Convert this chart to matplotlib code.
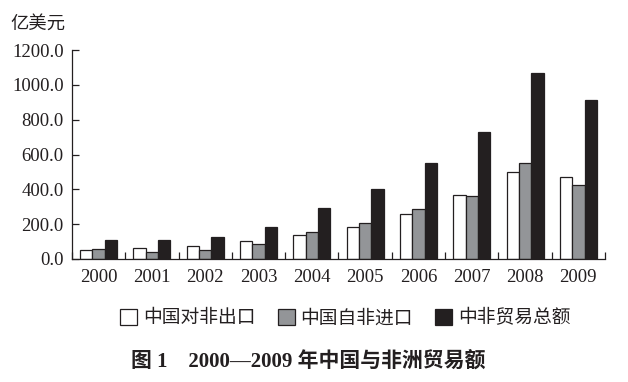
import matplotlib
matplotlib.use("Agg")
import matplotlib.pyplot as plt
import numpy as np
from matplotlib.patches import Patch

years = ["2000", "2001", "2002", "2003", "2004", "2005", "2006", "2007", "2008", "2009"]
exports = [52, 61, 73, 103, 136, 182, 257, 366, 498, 469]
imports = [59, 39, 50, 84, 153, 205, 285, 360, 549, 423]
total = [109, 109, 126, 184, 293, 402, 551, 729, 1068, 913]
series_names = ["中国对非出口", "中国自非进口", "中非贸易总额"]
yticks = [0, 200, 400, 600, 800, 1000, 1200]

serif = ["Liberation Serif", "Noto Sans CJK SC"]
cjk = ["Noto Sans CJK SC", "DejaVu Sans"]
plt.rcParams["font.family"] = serif

fig = plt.figure(figsize=(6.28, 3.82), dpi=100)
ax = fig.add_axes([0.1146, 0.322, 0.8488, 0.547])

x = np.arange(len(years))
w = 0.232
colors = ["white", "#939598", "#231f20"]
for i, (vals, c) in enumerate(zip([exports, imports, total], colors)):
    ax.bar(x + (i - 1) * w, vals, width=w, color=c, edgecolor="#231f20", linewidth=0.9)

ax.set_xlim(-0.5, len(years) - 0.5)
ax.set_ylim(0, 1200)
ax.set_yticks(yticks)
ax.set_yticklabels([f"{v:.1f}" for v in yticks], fontsize=13.5, color="#231f20")
ax.set_xticks(np.arange(-0.5, len(years)), labels=[""] * (len(years) + 1))
ax.set_xticks(x, labels=years, minor=True)
ax.tick_params(axis="x", which="major", direction="in", length=5, width=0.9, color="#231f20")
ax.tick_params(axis="x", which="minor", length=0, pad=7, labelsize=13.5, labelcolor="#231f20")
ax.tick_params(axis="y", direction="in", length=5, width=0.9, pad=6, color="#231f20")
for s in ["top", "right"]:
    ax.spines[s].set_visible(False)
for s in ["left", "bottom"]:
    ax.spines[s].set_linewidth(0.9)
    ax.spines[s].set_color("#231f20")

fig.text(0.016, 0.937, "亿美元", family=cjk, fontsize=13.2, color="#231f20", va="center", ha="left")

handles = [Patch(facecolor=c, edgecolor="#231f20", linewidth=0.9) for c in colors]
leg = fig.legend(handles, series_names, loc="center", bbox_to_anchor=(0.55, 0.168), ncol=3,
                 frameon=False, prop={"family": cjk, "size": 13.5}, handlelength=0.9,
                 handleheight=0.9, handletextpad=0.3, columnspacing=1.2)
for t in leg.get_texts():
    t.set_color("#231f20")

fig.text(0.491, 0.052, "图 1　2000—2009 年中国与非洲贸易额", family=serif, fontsize=15,
         fontweight="bold", ha="center", va="center", color="#231f20")

fig.savefig("out.png", dpi=100)
